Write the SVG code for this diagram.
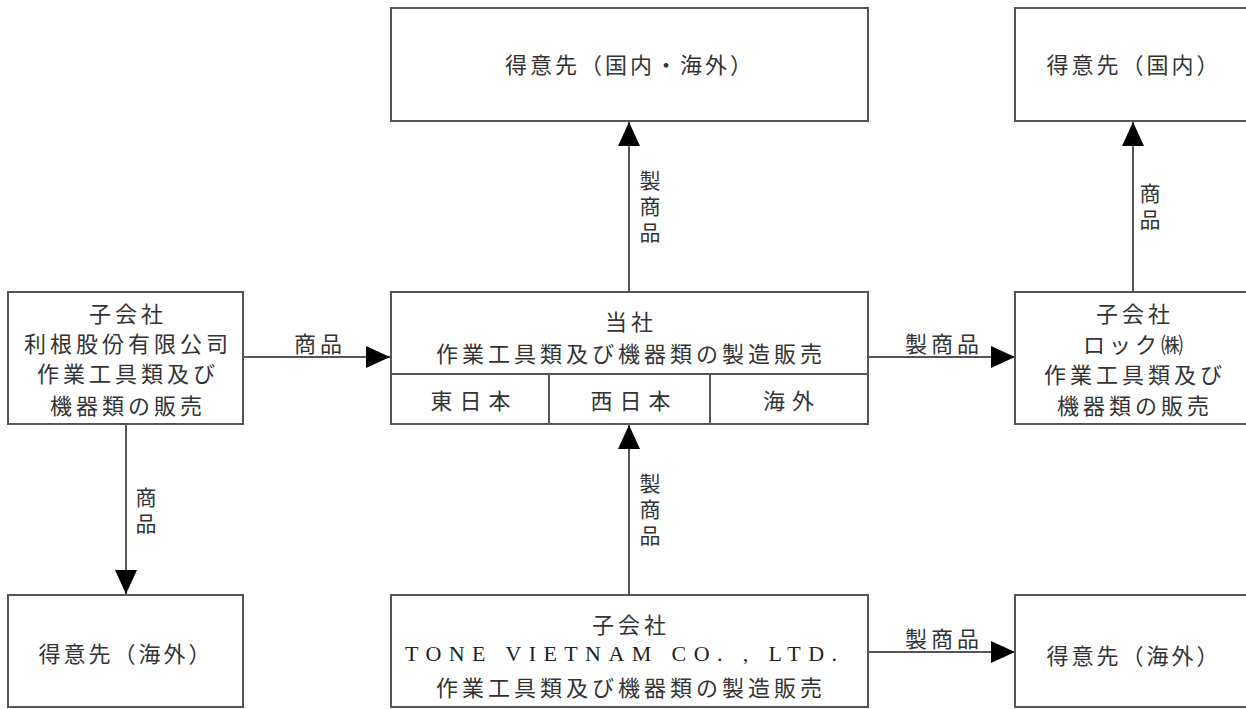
<svg xmlns="http://www.w3.org/2000/svg" width="1246" height="709" viewBox="0 0 1246 709">
<style>
.box{fill:#fff;stroke:#555;stroke-width:2}
.div{stroke:#555;stroke-width:2;fill:none}
.t{font-family:"Noto Sans CJK JP","Noto Sans CJK SC",sans-serif;font-size:22px;fill:#333;text-anchor:middle;dominant-baseline:central;letter-spacing:4px}
.w{letter-spacing:7px}
.p{letter-spacing:3px}
.v{font-family:"Noto Sans CJK JP","Noto Sans CJK SC",sans-serif;font-size:21px;fill:#333;text-anchor:middle;writing-mode:vertical-rl;letter-spacing:5px}
.e{font-family:"Liberation Serif",serif;font-size:22px;fill:#222;text-anchor:middle;dominant-baseline:central}
.ln{stroke:#555;stroke-width:2;fill:none}
</style>
<defs>
<marker id="ah" viewBox="0 0 24 22" refX="24" refY="11" markerWidth="24" markerHeight="22" markerUnits="userSpaceOnUse" orient="auto">
<path d="M0,0 L24,11 L0,22 Z" fill="#000"/>
</marker>
</defs>

<g id="connectors">
<line class="ln" x1="629" y1="292" x2="629" y2="122" marker-end="url(#ah)"/>
<text class="v" x="650" y="209">製商品</text>
<line class="ln" x1="1133" y1="292" x2="1133" y2="122" marker-end="url(#ah)"/>
<text class="v" x="1150" y="209">商品</text>
<line class="ln" x1="243" y1="357" x2="390" y2="357" marker-end="url(#ah)"/>
<text class="t" x="320" y="342">商品</text>
<line class="ln" x1="868" y1="357" x2="1015" y2="357" marker-end="url(#ah)"/>
<text class="t" x="944" y="342">製商品</text>
<line class="ln" x1="126" y1="424" x2="126" y2="594" marker-end="url(#ah)"/>
<text class="v" x="146" y="513">商品</text>
<line class="ln" x1="629" y1="595" x2="629" y2="425" marker-end="url(#ah)"/>
<text class="v" x="650" y="512">製商品</text>
<line class="ln" x1="868" y1="652" x2="1015" y2="652" marker-end="url(#ah)"/>
<text class="t" x="944" y="637">製商品</text>
</g>

<g id="customer-top">
<rect class="box" x="391" y="8" width="477" height="113"/>
<text class="t p" x="630" y="63">得意先（国内・海外）</text>
</g>

<g id="customer-domestic">
<rect class="box" x="1015" y="8" width="240" height="113"/>
<text class="t p" x="1134" y="63">得意先（国内）</text>
</g>

<g id="sub-taiwan">
<rect class="box" x="8" y="292" width="235" height="132"/>
<text class="t" x="128" y="312">子会社</text>
<text class="t" x="128" y="342">利根股份有限公司</text>
<text class="t" x="128" y="372">作業工具類及び</text>
<text class="t" x="128" y="404">機器類の販売</text>
</g>

<g id="company">
<rect class="box" x="391" y="292" width="477" height="132"/>
<line class="div" x1="391" y1="374" x2="868" y2="374"/>
<line class="div" x1="549" y1="374" x2="549" y2="424"/>
<line class="div" x1="710" y1="374" x2="710" y2="424"/>
<text class="t" x="631" y="320">当社</text>
<text class="t" x="631" y="352">作業工具類及び機器類の製造販売</text>
<text class="t w" x="474" y="399">東日本</text>
<text class="t w" x="634" y="399">西日本</text>
<text class="t w" x="792" y="399">海外</text>
</g>

<g id="sub-lock">
<rect class="box" x="1015" y="292" width="240" height="132"/>
<text class="t" x="1135" y="312">子会社</text>
<text class="t" x="1135" y="343">ロック㈱</text>
<text class="t" x="1135" y="373">作業工具類及び</text>
<text class="t" x="1135" y="404">機器類の販売</text>
</g>

<g id="customer-overseas-left">
<rect class="box" x="8" y="595" width="235" height="112"/>
<text class="t p" x="126" y="652">得意先（海外）</text>
</g>

<g id="sub-vietnam">
<rect class="box" x="391" y="595" width="477" height="112"/>
<text class="t" x="631" y="623">子会社</text>
<text class="e" x="621" y="653" textLength="432" lengthAdjust="spacing">TONE VIETNAM CO. , LTD.</text>
<text class="t" x="631" y="686">作業工具類及び機器類の製造販売</text>
</g>

<g id="customer-overseas-right">
<rect class="box" x="1015" y="595" width="240" height="112"/>
<text class="t p" x="1134" y="654">得意先（海外）</text>
</g>
</svg>
